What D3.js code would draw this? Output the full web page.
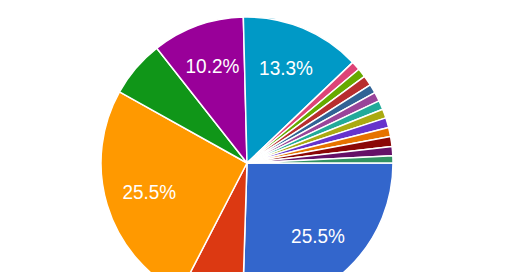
<!DOCTYPE html>
<html>
<head>
<meta charset="utf-8">
<script src="https://cdn.jsdelivr.net/npm/d3@7"></script>
<style>
  body { margin: 0; background: #fff; }
  svg { display: block; }
  .label { fill: #fff; font-family: "Liberation Sans", Arial, sans-serif; font-size: 19px; }
</style>
</head>
<body>
<div id="vis"></div>
<script>
// slice values, in drawing order (clockwise from 3 o'clock)
var values = [25.5, 7.1, 25.5, 6.3, 10.2, 13.3,
              1.0, 1.0, 1.1, 1.0, 1.0, 1.0, 1.0, 1.1, 1.0, 1.1, 1.0, 0.8];
var colors = ["#3366cc", "#dc3912", "#ff9900", "#109618", "#990099", "#0099c6",
              "#dd4477", "#66aa00", "#b82e2e", "#316395", "#994499", "#22aa99",
              "#aaaa11", "#6633cc", "#e67300", "#8b0707", "#651067", "#329262"];

var w = 520,
    h = 272,
    cx = 247,
    cy = 163,
    radius = 146,
    labelRadius = 102,
    minLabel = 8, // smaller slices get no text
    textStretch = 1.08; // labels in the picture are a bit taller than plain Arial

var total = d3.sum(values);

var svg = d3.select("#vis")
            .append("svg")
            .attr("width", w)
            .attr("height", h);

var g = svg.append("g")
           .attr("transform", "translate(" + cx + "," + cy + ")");

var pie = d3.pie()
            .sort(null)
            .startAngle(Math.PI / 2)
            .endAngle(Math.PI / 2 + 2 * Math.PI);

var arc = d3.arc().innerRadius(0).outerRadius(radius);
var labelArc = d3.arc().innerRadius(labelRadius).outerRadius(labelRadius);

var arcs = pie(values);

g.selectAll("path.slice")
 .data(arcs)
 .enter()
 .append("path")
 .attr("class", "slice")
 .attr("d", arc)
 .attr("fill", function(d, i) { return colors[i]; })
 .attr("stroke", "#fff")
 .attr("stroke-width", 1.5)
 .attr("stroke-linejoin", "round");

g.selectAll("text.label")
 .data(arcs.filter(function(d) { return d.value / total * 100 >= minLabel; }))
 .enter()
 .append("text")
 .attr("class", "label")
 .attr("transform", function(d) {
     var c = labelArc.centroid(d);
     return "translate(" + c[0] + "," + (c[1] - 1) + ") scale(1," + textStretch + ")";
 })
 .attr("text-anchor", "middle")
 .attr("y", 6.8)
 .text(function(d) { return (d.value / total * 100).toFixed(1) + "%"; });
</script>
</body>
</html>
